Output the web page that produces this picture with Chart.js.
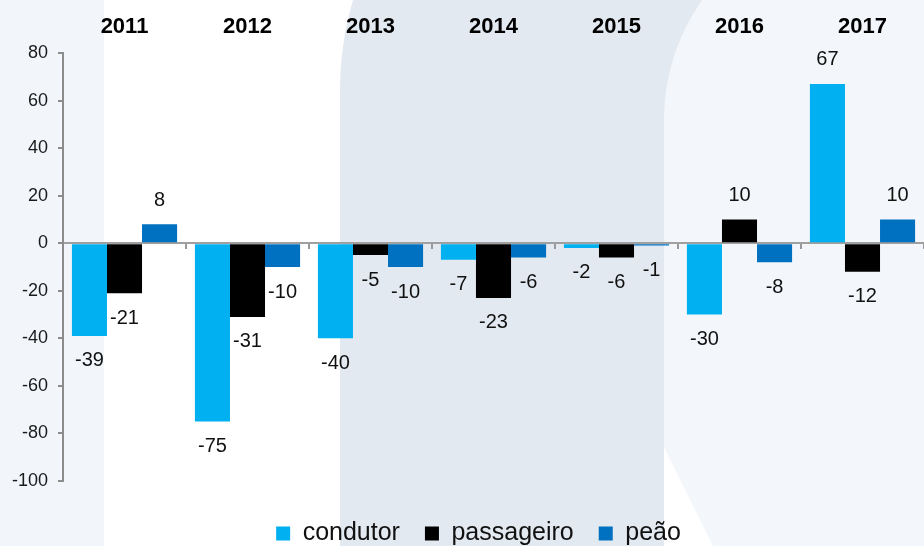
<!DOCTYPE html>
<html>
<head>
<meta charset="utf-8">
<script src="https://cdn.jsdelivr.net/npm/chart.js@4.4.1/dist/chart.umd.min.js"></script>
<style>
  html, body { margin: 0; padding: 0; background: #fff; }
  #wrap { width: 924px; height: 546px; }
</style>
</head>
<body>
<div id="wrap"><canvas id="chart"></canvas></div>
<script>
const years = ["2011", "2012", "2013", "2014", "2015", "2016", "2017"];
const condutor = [-39, -75, -40, -7, -2, -30, 67];
const passageiro = [-21, -31, -5, -23, -6, 10, -12];
const peao = [8, -10, -10, -6, -1, -8, 10];
const yMin = -100;
const yMax = 80;
const yStep = 20;

const FONT = "'Liberation Sans', Arial, sans-serif";

// watermark shapes behind the chart
const backdrop = {
  id: "backdrop",
  beforeDraw(chart) {
    const ctx = chart.ctx;
    const w = chart.width, h = chart.height;
    ctx.save();
    ctx.fillStyle = "#ffffff";
    ctx.fillRect(0, 0, w, h);
    ctx.fillStyle = "#f2f6fb";
    ctx.fillRect(0, 0, 104, h);
    // grey block with big rounded corner
    ctx.fillStyle = "#e3e9f0";
    ctx.beginPath();
    ctx.roundRect(340, -228, 400, h + 260, [318, 0, 0, 0]);
    ctx.fill();
    // light block on the right
    ctx.fillStyle = "#f3f6fa";
    ctx.beginPath();
    ctx.roundRect(664, -88, w - 664 + 20, h + 100, [208, 0, 0, 0]);
    ctx.fill();
    ctx.fillStyle = "#ffffff";
    ctx.beginPath();
    ctx.moveTo(664, 447);
    ctx.lineTo(713, h);
    ctx.lineTo(664, h);
    ctx.closePath();
    ctx.fill();
    ctx.restore();
  }
};

// value labels above / below each bar
const barLabels = {
  id: "barLabels",
  afterDatasetsDraw(chart) {
    const ctx = chart.ctx;
    ctx.save();
    ctx.font = "20px " + FONT;
    ctx.fillStyle = "#111";
    ctx.textAlign = "center";
    ctx.textBaseline = "middle";
    chart.data.datasets.forEach((ds, i) => {
      chart.getDatasetMeta(i).data.forEach((bar, j) => {
        const v = ds.data[j];
        const y = v >= 0 ? bar.y - 24 : bar.y + 25;
        ctx.fillText(String(v), bar.x, y);
      });
    });
    ctx.restore();
  }
};

// legend sits a little left of the plot centre
const legendShift = {
  id: "legendShift",
  afterLayout(chart) {
    chart.legend.left -= 15;
    chart.legend.right -= 15;
  }
};

new Chart(document.getElementById("chart"), {
  type: "bar",
  data: {
    labels: years,
    datasets: [
      { label: "condutor", data: condutor, backgroundColor: "#00b0f0", xAxisID: "x" },
      { label: "passageiro", data: passageiro, backgroundColor: "#000000", xAxisID: "x" },
      { label: "peão", data: peao, backgroundColor: "#0070c0", xAxisID: "x" }
    ]
  },
  options: {
    responsive: true,
    maintainAspectRatio: false,
    animation: false,
    layout: { padding: { left: 0, right: 0, top: 0, bottom: -10 } },
    datasets: { bar: { categoryPercentage: 0.855, barPercentage: 1, borderWidth: 0 } },
    scales: {
      x: {
        position: { y: 0 },
        z: 1,
        grid: { display: true, drawOnChartArea: false, drawTicks: true, tickLength: 5, color: "#999", lineWidth: 2 },
        border: { display: true, color: "#a0a0a0", width: 2 },
        ticks: { display: false }
      },
      xTop: {
        type: "category",
        position: "top",
        grid: { display: false, drawTicks: false },
        border: { display: false },
        ticks: { font: { family: FONT, size: 22, weight: "bold" }, color: "#000", padding: 13 },
        afterFit(s) { s.height = 53; }
      },
      xSpacer: {
        type: "category",
        position: "bottom",
        grid: { display: false, drawTicks: false },
        border: { display: false },
        ticks: { display: false },
        afterFit(s) { s.height = 15; }
      },
      y: {
        min: yMin,
        max: yMax,
        ticks: { stepSize: yStep, font: { family: FONT, size: 18 }, color: "#1a1a1a", padding: 10 },
        grid: { display: true, drawOnChartArea: false, drawTicks: true, tickLength: 5, color: "#8c8c8c", lineWidth: 2 },
        border: { display: true, color: "#8c8c8c", width: 2 },
        afterFit(s) { s.width = 63; }
      }
    },
    plugins: {
      legend: {
        position: "bottom",
        fullSize: false,
        labels: {
          font: { family: FONT, size: 25 },
          color: "#111",
          boxWidth: 14,
          boxHeight: 14,
          padding: 25
        }
      },
      tooltip: { enabled: false }
    }
  },
  plugins: [backdrop, barLabels, legendShift]
});
</script>
</body>
</html>
